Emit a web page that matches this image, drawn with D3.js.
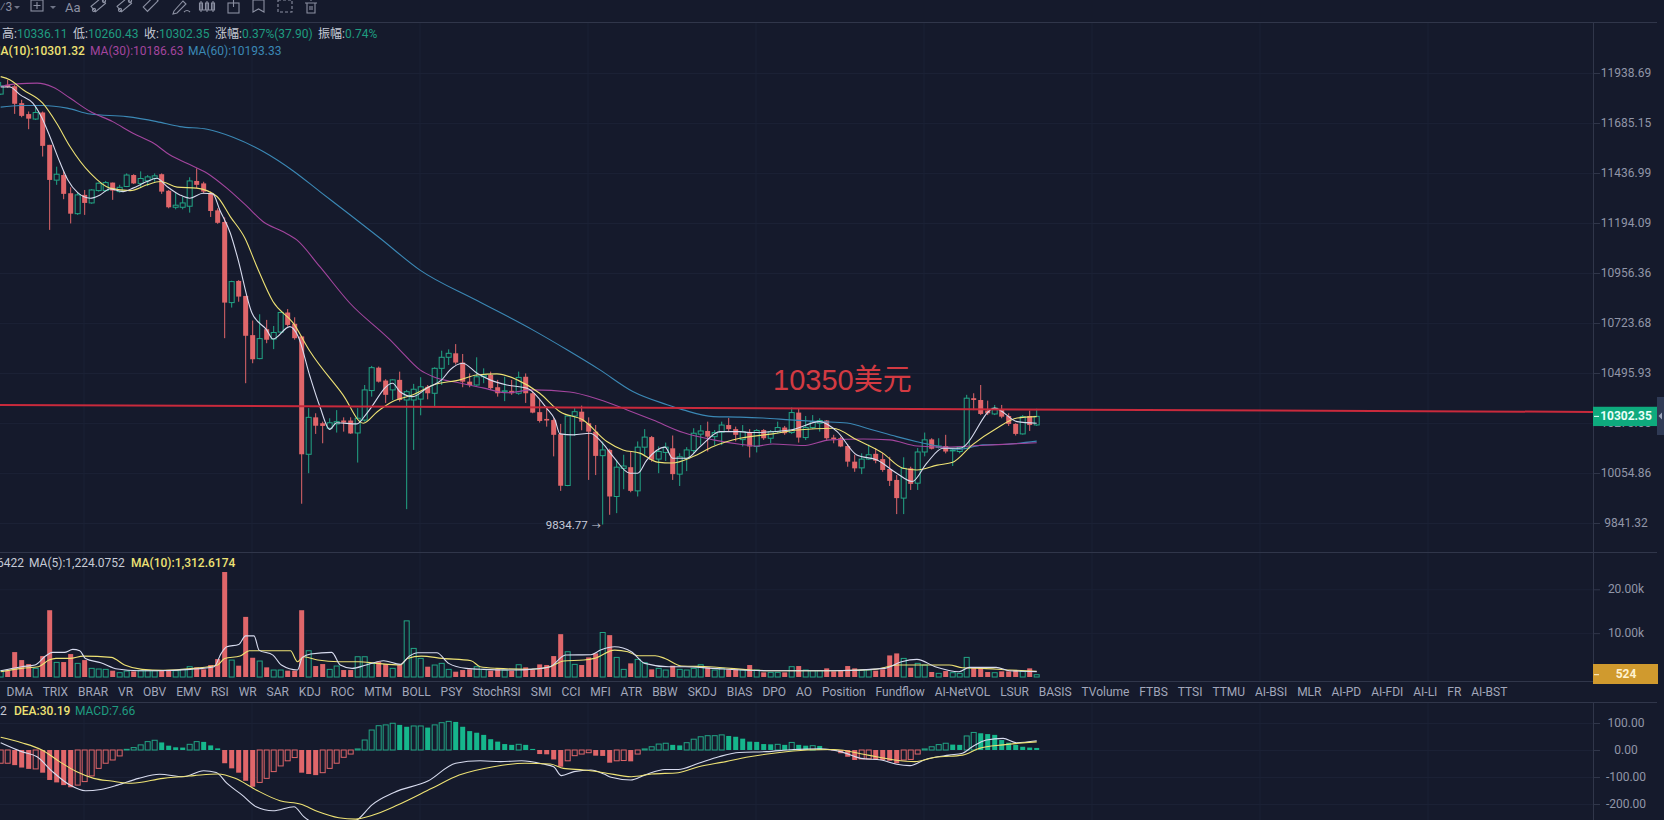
<!DOCTYPE html>
<html><head><meta charset="utf-8">
<script src="https://cdn.jsdelivr.net/npm/d3@7"></script>
<style>html,body{margin:0;padding:0;background:#151a2c;overflow:hidden}svg{display:block}text{font-family:Roboto,"Noto Sans CJK SC",sans-serif}</style>
</head><body><div id="chart"></div>
<script>
// ---------- data ----------
const opens=[11831,11878,11871,11785,11730,11705,11738,11576,11402,11427,
11338,11239,11330,11291,11351,11351,11390,11346,11371,11427,
11386,11399,11411,11431,11350,11270,11270,11275,11398,11386,
11338,11255,11199,10818,10919,10849,10668,10561,10695,10650,
10682,10772,10720,10662,10136,10298,10272,10250,10269,10284,
10284,10229,10286,10417,10520,10462,10420,10465,10375,10375,
10379,10434,10405,10517,10567,10585,10543,10457,10442,10479,
10487,10432,10411,10416,10405,10479,10405,10321,10291,10286,
10224,10001,10304,10323,10272,10235,10130,10155,9954,10075,
10080,9978,10167,10211,10115,10144,10162,10050,10118,10152,
10224,10238,10213,10233,10264,10246,10200,10231,10170,10242,
10206,10235,10253,10231,10319,10209,10253,10272,10284,10209,
10206,10172,10104,10077,10115,10138,10115,10072,10025,9947,
10075,10011,10146,10201,10166,10172,10152,10148,10162,10383,
10375,10328,10313,10335,10304,10269,10225,10304,10264.45];
const highs=[11893,11904,11878,11802,11743,11768,11743,11576,11468,11445,
11367,11341,11354,11358,11390,11398,11390,11379,11435,11431,
11445,11427,11435,11435,11354,11338,11322,11416,11460,11394,
11346,11265,11221,10920,10923,10849,10735,10764,10738,10710,
10775,10788,10750,10665,10339,10316,10279,10294,10330,10298,
10298,10339,10442,10528,10525,10468,10468,10502,10420,10447,
10477,10442,10522,10597,10603,10627,10582,10494,10567,10517,
10502,10465,10479,10465,10502,10494,10412,10375,10346,10294,
10269,10308,10339,10350,10298,10264,10192,10160,10112,10134,
10148,10192,10246,10216,10170,10187,10218,10140,10167,10250,
10264,10279,10242,10279,10295,10257,10264,10246,10246,10246,
10242,10279,10260,10342,10339,10304,10308,10294,10286,10221,
10213,10181,10134,10140,10178,10163,10143,10125,10046,10123,
10082,10163,10231,10206,10206,10221,10160,10172,10398,10405,
10442,10372,10353,10353,10316,10272,10308,10328,10336.11];
const lows=[11827,11863,11731,11714,11654,11700,11518,11161,11379,11309,
11192,11233,11233,11287,11346,11346,11306,11341,11368,11383,
11363,11373,11394,11335,11265,11260,11260,11244,11363,11338,
11223,11190,10654,10795,10822,10450,10540,10558,10631,10604,
10677,10707,10647,9923,10054,10225,10184,10242,10231,10235,
10225,10100,10279,10390,10453,10362,10375,10368,9900,10155,
10307,10378,10346,10442,10532,10534,10432,10432,10439,10450,
10420,10390,10370,10398,10398,10362,10316,10275,10257,10127,
9978,9998,10216,10241,10025,10046,9834.77,9876,9883,9985,
9972,9954,10134,10104,10054,10107,10025,9999,10063,10140,
10176,10148,10176,10176,10235,10192,10170,10122,10144,10199,
10184,10228,10221,10225,10187,10198,10247,10235,10199,10184,
10167,10082,10060,10050,10112,10097,10060,9999,9879,9879,
9982,9982,10127,10157,10160,10140,10085,10140,10160,10330,
10308,10308,10308,10294,10260,10218,10222,10238,10260.43];
const closes=[11873,11868,11782,11721,11707,11738,11571,11403,11431,11335,
11239,11330,11291,11354,11387,11390,11351,11367,11427,11386,
11410,11418,11423,11346,11270,11280,11291,11398,11379,11346,
11252,11195,10818,10916,10846,10665,10558,10652,10647,10680,
10772,10715,10654,10136,10298,10261,10260,10274,10279,10275,
10227,10294,10420,10520,10457,10398,10465,10375,10412,10423,
10434,10405,10517,10567,10585,10543,10457,10442,10479,10487,
10428,10405,10416,10405,10476,10405,10319,10282,10284,10221,
10000,10304,10323,10279,10235,10129,10155,9954,10080,10085,
9978,10167,10211,10112,10148,10167,10050,10125,10155,10228,
10238,10213,10231,10264,10246,10221,10235,10170,10240,10206,
10235,10253,10228,10319,10209,10253,10279,10284,10206,10202,
10170,10104,10075,10115,10134,10108,10068,10021,9947,10075,
10008,10146,10199,10160,10172,10148,10155,10167,10383,10375,
10313,10316,10339,10301,10269,10225,10301,10264,10302.35];

const ma5Idx=[0,1.3,2.8,4.6,5.9,7,8.5,9.6,11,12.8,14.2,15.6,17.5,18.9,20.9,22.3,23.8,25.6,27,28.9,30.3,31.3,32.8,33.8,35.9,38,38.9,41.3,42.5,44.2,45.6,47,48,50.9,52.3,56,57,58.9,60.9,63,64.2,66,68,69.9,72.3,75.2,78,79.2,79.9,81.8,84.2,86,87.5,89.9,91,92.3,94.9,96,98,99.9,102.8,105.6,107,112.8,117,119.5,122.3,125.2,128,130.2,132.3,134.6,137,142,145.2,148];
const ma5Val=[11867,11867,11827,11785,11710,11620,11487,11403,11341,11314,11330,11359,11346,11363,11395,11411,11370,11330,11314,11338,11335,11257,11146,11034,10770,10692,10650,10707,10662,10479,10346,10245,10274,10269,10316,10450,10413,10390,10429,10465,10510,10540,10496,10465,10442,10427,10338,10286,10225,10221,10228,10184,10126,10054,10054,10111,10167,10119,10119,10169,10235,10235,10231,10242,10279,10235,10133,10111,10054,10018,10098,10162,10162,10339,10279,10272];
const ma10Idx=[0,1.3,3.2,6,8,9.9,12.8,15.6,18.5,20.9,22.8,25.2,28,30.9,32.8,34.9,36.6,38.9,41.8,44.2,48.9,51.8,53.8,56,58.9,61.8,65.6,68,70.9,73.8,77,79.9,83.2,86.6,88.9,91.3,93.8,95.9,98.9,101.8,105.6,110.3,113.8,118.9,122.3,126,128.9,130.9,133.8,136,138.8,142.3,145.2,148];
const ma10Val=[11920,11904,11853,11785,11684,11568,11436,11363,11351,11379,11395,11368,11363,11322,11225,11121,10986,10823,10723,10593,10398,10272,10323,10368,10398,10442,10465,10487,10492,10465,10405,10323,10286,10192,10155,10141,10102,10098,10126,10170,10206,10225,10242,10250,10199,10141,10075,10068,10089,10101,10177,10250,10295,10301.32];
const ma30Idx=[0,2.3,5.2,7.5,9.9,12.8,16,18.9,21.8,24.2,26.6,29.5,32.3,35.2,37.5,40.3,42.3,45.6,49.9,55.6,57,59.9,61.8,65.6,68.9,72.3,76,81.3,85.6,89.5,93.2,97.5,101.8,105.6,108,110.3,114.6,118.5,123.2,127,130.9,134.6,138.5,141.8,148];
const ma30Val=[11870,11883,11887,11866,11811,11743,11692,11634,11585,11526,11485,11436,11363,11274,11200,11153,11113,10986,10815,10647,10601,10510,10479,10451,10429,10407,10420,10411,10376,10331,10286,10231,10199,10180,10172,10181,10174,10199,10203,10199,10172,10167,10172,10177,10186.63];
const ma60Idx=[0,2.8,6,9.5,12.8,18,22.3,25.6,29.5,33.2,37.5,41.8,45.6,49.9,54.2,59.9,67.9,76,80.9,85.6,90.3,95.2,97.5,101.8,105.6,108.9,112.8,117,120.9,124.6,128,130.9,133.8,137,140.3,143.8,148];
const ma60Val=[11765,11773,11773,11760,11730,11717,11692,11667,11654,11614,11543,11447,11346,11234,11121,10970,10830,10692,10601,10510,10413,10354,10331,10301,10299,10295,10287,10279,10273,10242,10213,10191,10172,10158,10177,10180,10193.33];

const volumes=[1440,1440,5680,3860,2950,1970,4770,15230,3330,3410,
5230,3110,3860,1970,1820,1740,1440,980,1360,1290,
1440,1440,1440,1440,1590,1440,1740,2350,2200,1740,
2730,4090,23940,3860,2580,13710,4390,3640,2200,1590,
1590,1440,1440,15230,5990,2500,2950,1740,2500,1590,
1590,4620,4620,3110,3490,2950,1970,2730,12800,6520,
4240,2350,2730,3110,1740,1210,1590,1740,2350,1740,
1440,1740,1590,1440,2800,2200,1590,2880,2730,4770,
9770,5760,2880,2730,4470,5380,10150,9550,4470,1740,
3110,4020,3260,1740,1970,1590,2580,1740,1590,1970,
2800,2200,1590,1970,1740,1740,1590,2730,1590,1060,
1060,1060,1060,2350,2500,1590,1440,1440,1970,1290,
1440,2500,1970,1590,1590,1440,1740,4920,5380,4240,
2120,3110,2730,1140,830,1360,980,830,4470,2200,
2200,1140,980,1290,1290,1590,1290,1970,524];
const volMa5Idx=[0,3,4.9,6.4,7.4,9.1,10.3,11.3,12.1,14.3,16.7,19.7,22.2,27.1,30.5,31.5,32.3,34,35,36.2,36.9,38.9,40.1,42.4,43.1,44.3,47.3,48.5,50.2,52.2,54.7,57.1,58.4,59.6,62.3,64,66.5,69,73.9,75.6,78.5,80.7,84.3,85.7,87.7,90.1,92,95.4,97.8,101.7,109.4,119,126.3,128.7,130.9,133.5,136.9,138.4,142.2,144.1,148];
const volMa5Val=[1440,2350,2730,4770,5610,5610,6290,5990,4240,3260,1820,1440,1440,1740,2350,5380,6890,7420,9390,9390,6140,5000,2730,1590,4470,5230,5610,2730,1970,2730,3710,2880,4770,5530,5530,3110,1970,1740,1590,1740,2350,5000,5080,6140,6890,5760,3110,2350,2350,1970,1440,1440,1970,3490,4020,2350,1210,2200,2200,1440,1224.08];
const volMa10Idx=[0,3,5.4,6.9,7.9,9.9,11.8,15.8,17.7,20.2,23.2,27.6,31,32,34.2,35.5,41.4,42.4,43.3,45.3,48.3,51.2,53.7,57.1,58.1,60.1,63.1,67.2,68.5,70.9,75.6,78.5,80.4,83.3,84.8,87.7,89.6,91.1,93.5,94.9,97.3,101.2,109.4,119,124.8,128.2,132.6,135.5,137.4,140.3,144.1,148];
const volMa10Val=[1210,1970,2350,3860,4240,4240,4770,4470,2730,1740,1520,1970,2730,4240,4770,5990,5990,3490,4620,3860,3490,3490,3110,2730,4240,4770,4240,3710,2350,1970,1740,2350,3640,3860,4240,6140,5760,4850,4850,4240,2500,2350,1440,1440,1740,2730,2730,2730,2120,1970,1590,1312.62];

const macdHist=[-49,-49,-56,-65,-70,-70,-84,-111,-120,-130,
-138,-130,-117,-96,-68,-49,-37,-22,2.5,9,
19,31,36,28,16,10,9,21,31,30,
17,6,-49,-68,-84,-114,-136,-120,-105,-80,
-59,-40,-28,-84,-89,-93,-84,-68,-49,-27,
-15,4,37,74,90,93,99,93,86,89,
89,83,93,101,106,104,86,70,64,56,
40,31,22,19,21,19,4,-15,-16,-35,
-62,-40,-21,-15,-10,-21,-22,-47,-40,-39,
-42,-15,4,12,22,25,19,17,27,40,
49,53,53,56,52,49,42,31,30,22,
21,21,19,28,19,16,16,15,4,-2,
-12,-25,-37,-33,-33,-35,-37,-40,-49,-37,
-35,-15,4,12,20,25,20,19,52,65,
62,59,56,37,27,19,12,9,7.66];
const difIdx=[0,3,5.2,7.4,9.9,12.1,14.3,16.7,19.7,22.7,26.1,29,30.8,32.3,34.5,36.5,38.9,41.9,43.3,45.3,47.3,49.3,51.2,53,56.2,61.1,65,68.5,71.4,74.4,77.5,79,80.1,81.9,84.3,86.2,87.2,90,92,94.9,96.8,99.7,102.6,105.5,109.4,113.3,117.1,120,122.9,125.8,128,129.9,132.1,135.5,137.4,138.8,140.8,143.2,145.1,148];
const difVal=[27,-6,-25,-80,-130,-151,-146,-130,-105,-90,-99,-77,-83,-123,-167,-210,-225,-210,-247,-278,-290,-278,-253,-204,-157,-114,-49,-40,-43,-40,-52,-62,-95,-80,-74,-89,-101,-111,-93,-72,-72,-49,-25,-9,-6,2,4,-6,-31,-37,-53,-58,-35,-19,-12,12,37,43,27,34.02];
const deaIdx=[0,3,5.9,8.4,10.8,13.3,15.8,18.7,23.2,27.6,31,33.5,36.5,39.9,42.9,45.3,48.3,50.7,53.2,56.7,61.6,65.5,70.4,74.9,78.5,80.4,83.3,86.2,90.1,93,96.8,99.7,103.6,106.5,110.4,115.2,119,123.9,127.7,130.6,133.5,137.4,139.8,143.2,148];
const deaVal=[47,27,0,-43,-80,-105,-115,-123,-105,-95,-89,-105,-148,-188,-201,-228,-251,-256,-241,-204,-142,-93,-62,-49,-52,-68,-74,-84,-99,-89,-84,-62,-43,-27,-12,0,2,-19,-37,-43,-27,-19,6,19,30.19];

const priceTicks=[11938.69,11685.15,11436.99,11194.09,10956.36,10723.68,10495.93,10273.05,10054.86,9841.32];
const volTicks=[20000,10000];
const macdTicks=[100,0,-100,-200];
const tabLabels=["DMA","TRIX","BRAR","VR","OBV","EMV","RSI","WR","SAR","KDJ","ROC","MTM","BOLL","PSY","StochRSI","SMI","CCI","MFI","ATR","BBW","SKDJ","BIAS","DPO","AO","Position","Fundflow","AI-NetVOL","LSUR","BASIS","TVolume","FTBS","TTSI","TTMU","AI-BSI","MLR","AI-PD","AI-FDI","AI-LI","FR","AI-BST"];
const annotationLine=[10353,10322];
const lastPrice=10302.35, lastVolume=524, lowPrice=9834.77;

// ---------- layout ----------
const W=1664,H=820,AX=1593;
const C={bg:"#151a2c",grid:"#1b2135",sep:"#30364a",axis:"#2f3549",tick:"#9196a8",
 red:"#e0666a",green:"#22a585",greenFill:"#16b68c",
 ma5:"#d7dbee",ma10:"#eee274",ma30:"#a3459e",ma60:"#3b88b5"};
const x=d3.scaleLinear().domain([0,148]).range([0.67,1036.7]);
const yP=d3.scaleLog().domain([9841.32,11938.69]).range([523,73]);
const yV=d3.scaleLinear().domain([0,20000]).range([677,589.3]);
const yM=d3.scaleLinear().domain([-200,100]).range([804,723]);

const svg=d3.select("#chart").append("svg").attr("width",W).attr("height",H);
svg.append("rect").attr("width",W).attr("height",H).attr("fill",C.bg);
const defs=svg.append("defs");
function clip(id,y0,y1){defs.append("clipPath").attr("id",id).append("rect").attr("x",0).attr("y",y0).attr("width",AX).attr("height",y1-y0);}
clip("cMain",23,552);clip("cVol",553,681);clip("cMacd",703,820);

// grid
const grid=svg.append("g").attr("stroke",C.grid).attr("stroke-width",1);
[84,252,420,588,756,924,1092,1260,1428].forEach(v=>{
 [[23,681],[702,820]].forEach(r=>grid.append("line").attr("x1",v).attr("x2",v).attr("y1",r[0]).attr("y2",r[1]));
});
function hgrid(s,t){t.forEach(d=>grid.append("line").attr("x1",0).attr("x2",AX).attr("y1",s(d)+.5).attr("y2",s(d)+.5));}
hgrid(yP,priceTicks);hgrid(yV,volTicks);hgrid(yM,macdTicks);

// separators
const sep=svg.append("g").attr("stroke",C.sep).attr("stroke-width",1);
[22.5,552.5,681.5,702.5].forEach(y=>sep.append("line").attr("x1",0).attr("x2",1657).attr("y1",y).attr("y2",y));
[[23,681],[702,820]].forEach(r=>sep.append("line").attr("x1",AX+.5).attr("x2",AX+.5).attr("y1",r[0]).attr("y2",r[1]));

// candles
const idx=d3.range(opens.length);
const isUp=i=>closes[i]>=opens[i];
const main=svg.append("g").attr("clip-path","url(#cMain)");
main.selectAll("line.w").data(idx).join("line").attr("class","w")
 .attr("x1",i=>x(i)).attr("x2",i=>x(i)).attr("y1",i=>yP(highs[i])).attr("y2",i=>yP(lows[i]))
 .attr("stroke",i=>isUp(i)?C.green:C.red).attr("stroke-width",1);
main.selectAll("rect.b").data(idx).join("rect").attr("class","b")
 .attr("x",i=>x(i)-2.5).attr("width",5)
 .attr("y",i=>yP(Math.max(opens[i],closes[i])))
 .attr("height",i=>Math.max(1,Math.abs(yP(opens[i])-yP(closes[i]))))
 .attr("fill",i=>isUp(i)?C.bg:C.red)
 .attr("stroke",i=>isUp(i)?C.green:"none").attr("stroke-width",1);

function drawLine(g,xs,ys,sx,sy,color,w){
 const l=d3.line().x(d=>sx(d[0])).y(d=>sy(d[1])).curve(d3.curveMonotoneX);
 g.append("path").attr("d",l(xs.map((v,k)=>[v,ys[k]]))).attr("fill","none").attr("stroke",color).attr("stroke-width",w||1.1);
}
drawLine(main,ma60Idx,ma60Val,x,yP,C.ma60);
drawLine(main,ma30Idx,ma30Val,x,yP,C.ma30);
drawLine(main,ma10Idx,ma10Val,x,yP,C.ma10);
drawLine(main,ma5Idx,ma5Val,x,yP,C.ma5);

// annotation line + text
svg.append("line").attr("x1",0).attr("x2",AX)
 .attr("y1",yP(annotationLine[0])).attr("y2",yP(annotationLine[1]))
 .attr("stroke","#c92a3c").attr("stroke-width",2);
svg.append("text").attr("x",773).attr("y",390).attr("fill","#d33a42")
 .attr("font-size",29).style("font-family",'"Liberation Sans","Noto Sans CJK SC",sans-serif').text("10350美元");

// low label
svg.append("text").attr("x",x(86)-15).attr("y",yP(lowPrice)+4).attr("text-anchor","end").attr("fill","#c6cbd9").attr("font-size",11.5).text("9834.77");
svg.append("text").attr("x",x(86)-11).attr("y",yP(lowPrice)+4).attr("fill","#c6cbd9").attr("font-size",9).text("→");

// volume
const vol=svg.append("g").attr("clip-path","url(#cVol)");
vol.selectAll("rect").data(idx).join("rect")
 .attr("x",i=>x(i)-2.5).attr("width",5)
 .attr("y",i=>yV(volumes[i])).attr("height",i=>yV(0)-yV(volumes[i]))
 .attr("fill",i=>isUp(i)?C.bg:C.red).attr("stroke",i=>isUp(i)?C.green:"none");
drawLine(vol,volMa10Idx,volMa10Val,x,yV,C.ma10);
drawLine(vol,volMa5Idx,volMa5Val,x,yV,C.ma5);

// macd
const mac=svg.append("g").attr("clip-path","url(#cMacd)");
const falling=i=>i>0&&macdHist[i]<macdHist[i-1];
mac.selectAll("rect").data(idx).join("rect")
 .attr("x",i=>x(i)-2.5).attr("width",5)
 .attr("y",i=>Math.min(yM(0),yM(macdHist[i])))
 .attr("height",i=>Math.abs(yM(0)-yM(macdHist[i])))
 .attr("fill",i=>falling(i)?(macdHist[i]>=0?C.greenFill:C.red):C.bg)
 .attr("stroke",i=>falling(i)?"none":(macdHist[i]>=0?C.green:C.red));
drawLine(mac,difIdx,difVal,x,yM,C.ma5);
drawLine(mac,deaIdx,deaVal,x,yM,C.ma10);

// right axes
function axisLabels(s,t,fmt){
 const g=svg.append("g");
 t.forEach(d=>{
  g.append("line").attr("x1",AX).attr("x2",AX+7).attr("y1",s(d)+.5).attr("y2",s(d)+.5).attr("stroke",C.sep);
  g.append("text").attr("x",1626).attr("y",s(d)+4).attr("text-anchor","middle").attr("fill",C.tick).attr("font-size",12).text(fmt(d));
 });
}
axisLabels(yP,priceTicks,d=>d.toFixed(2));
axisLabels(yV,volTicks,d=>(d/1000).toFixed(2)+"k");
axisLabels(yM,macdTicks,d=>d.toFixed(2));

// price tag
const py=yP(lastPrice);
svg.append("rect").attr("x",AX).attr("y",py-9.6).attr("width",64).attr("height",19.3).attr("fill","#0eaa7d");
svg.append("line").attr("x1",AX+1).attr("x2",AX+6).attr("y1",py).attr("y2",py).attr("stroke","#e8fff7");
svg.append("text").attr("x",1626).attr("y",py+4).attr("text-anchor","middle").attr("fill","#eafff8").attr("font-size",12).attr("font-weight",700).text(lastPrice.toFixed(2));
svg.append("rect").attr("x",1657).attr("y",397).attr("width",7).attr("height",38).attr("fill","#2f3a55");
svg.append("path").attr("d","M1658.5 416l3.5-3.5v7z").attr("fill","#9aa3ba");
// volume tag
svg.append("rect").attr("x",AX).attr("y",664).attr("width",65).attr("height",20).attr("fill","#d09a2e");
svg.append("line").attr("x1",AX+1).attr("x2",AX+6).attr("y1",yV(lastVolume)).attr("y2",yV(lastVolume)).attr("stroke","#fff2cf");
svg.append("text").attr("x",1626).attr("y",678).attr("text-anchor","middle").attr("fill","#fff2cf").attr("font-size",12).attr("font-weight",700).text(lastVolume);

// tabs
const tabs=svg.append("g").attr("fill","#a2a7ba").attr("font-size",12);
let tx=6.5;
tabLabels.forEach(t=>{
 const n=tabs.append("text").attr("x",tx).attr("y",696).text(t);
 tx+=n.node().getComputedTextLength()+9.9;
});

// legends
function legend(y,parts){
 parts.forEach(p=>{
  svg.append("text").attr("x",p[0]).attr("y",y).attr("fill",p[2]).attr("font-size",12).attr("font-weight",p[3]||400).text(p[1]);
 });
}
const lab="#c6cad6",val="#1f9c80";
legend(37.5,[[2,"高:",lab],[17,"10336.11",val],[73,"低:",lab],[88,"10260.43",val],[144,"收:",lab],[159,"10302.35",val],[215,"涨幅:",lab],[242,"0.37%(37.90)",val],[318,"振幅:",lab],[345,"0.74%",val]]);
legend(55,[[-10,"MA(10):10301.32",C.ma10,500],[90,"MA(30):10186.63",C.ma30],[188,"MA(60):10193.33",C.ma60]]);
legend(566.500,[[-3,"6422",lab],[29,"MA(5):1,224.0752",lab],[131,"MA(10):1,312.6174",C.ma10,500]]);
legend(715,[[0,"2",lab],[14,"DEA:30.19",C.ma10,500],[75,"MACD:7.66",val]]);

// toolbar
const tb=svg.append("g").attr("fill","none").attr("stroke","#8b90a2").attr("stroke-width",1.1);
svg.append("text").attr("x",0).attr("y",11).attr("fill","#8b90a2").attr("font-size",12).text("⁄3");
[17,53].forEach(c=>svg.append("path").attr("d",`M${c-3} 6l3 3 3-3z`).attr("fill","#6f7486"));
tb.append("rect").attr("x",31).attr("y",0).attr("width",12).attr("height",11);
tb.append("path").attr("d","M37 2v7M33.5 5.5h7");
svg.append("text").attr("x",65).attr("y",12).attr("fill","#8b90a2").attr("font-size",13).text("Aa");
[99,125].forEach(c=>{
 tb.append("rect").attr("x",c-7).attr("y",1).attr("width",13).attr("height",7).attr("transform",`rotate(-40 ${c} 5)`);
 tb.append("circle").attr("cx",c-5).attr("cy",10).attr("r",1.6);
 tb.append("circle").attr("cx",c+5).attr("cy",1).attr("r",1.6);
});
tb.append("rect").attr("x",144).attr("y",1).attr("width",15).attr("height",6).attr("transform","rotate(-45 151 5)");
tb.append("path").attr("d","M174 11l9-10 3 3-9 9-4 1zM184 12q3-3 6 0");
tb.append("path").attr("d","M201 1v11M207 1v11M213 1v11M199.500 3h3v7h-3zM205.500 3h3v7h-3zM211.500 3h3v7h-3zM199 10h16");
tb.append("rect").attr("x",228).attr("y",3).attr("width",11).attr("height",10);
tb.append("path").attr("d","M233.500 0v7");
tb.append("path").attr("d","M253 0h11v12l-5.500-3-5.500 3z");
tb.append("rect").attr("x",278).attr("y",0).attr("width",14).attr("height",12).attr("stroke-dasharray","3 2");
tb.append("path").attr("d","M305 3h12M307 3v10h8V3M310 0h2M310 6v4M312 6v4");
</script>
</body></html>
